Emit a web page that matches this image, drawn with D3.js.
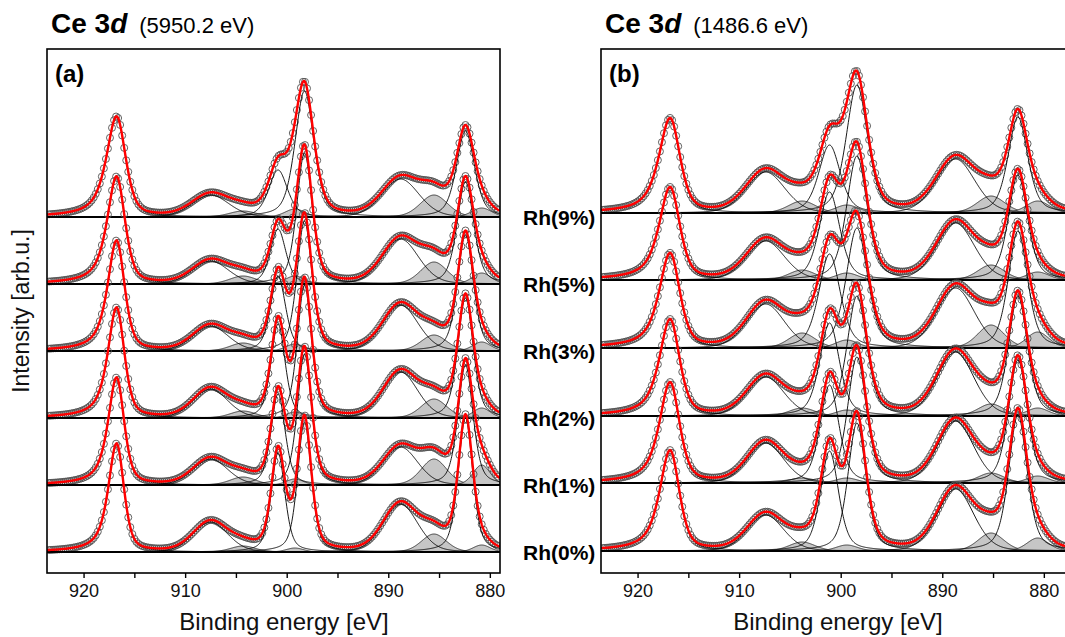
<!DOCTYPE html>
<html><head><meta charset="utf-8">
<script src="https://cdn.jsdelivr.net/npm/d3@7"></script>
<style>
html,body{margin:0;padding:0;background:#fff;}
svg{display:block;font-family:Arial,"Liberation Sans",Helvetica,sans-serif;}
</style></head><body>
<svg id="chart" width="1065" height="637"></svg>
<script>
// Ce 3d spectra of Rh-doped ceria, fitted with Ce4+ (open) and Ce3+ (grey) components
const samples = ["Rh(0%)", "Rh(1%)", "Rh(2%)", "Rh(3%)", "Rh(5%)", "Rh(9%)"];
const componentNames = ["u'''", "u''", "u'", "u", "u0", "v'''", "v''", "v'", "v", "v0"];
const isCe3 = [false, false, true, false, true, false, false, true, false, true];
// width group of each component: 0 main, 1 mid, 2 satellite, 3 broad Ce3+, 4 narrow Ce3+
const widthGroup = [0, 2, 3, 1, 4, 1, 2, 3, 0, 4];
const lorentzFraction = [0.45, 0.45, 0.2, 0.2, 0.2];
// extra tail on the high binding energy side of u'''
const highSideWidth = [1.15, 1, 1, 1, 1, 1, 1, 1, 1, 1];
const highSideLorentz = [0.75, null, null, null, null, null, null, null, null, null];
const xTicks = [920, 910, 900, 890, 880];
const xMinorTicks = [915, 905, 895, 885, 875];

// (a) hard X-ray excitation
const excitationA = "(5950.2 eV)";
const positionsA = [916.75, 907.5, 904.3, 900.85, 899.2, 898.25, 888.8, 885.5, 882.4, 880.8];
const heightsA = [
  [108, 30, 6, 99, 4, 130, 48, 18, 134, 7],    // Rh(0%)
  [107, 26, 8, 91, 6, 131, 38, 26, 120, 20],   // Rh(1%)
  [110, 29, 7, 94, 6, 133, 46, 19, 120, 10],   // Rh(2%)
  [110, 25, 8, 75, 7, 130, 46, 16, 116, 9],    // Rh(3%)
  [107, 23, 8, 55, 8, 131, 45, 22, 102, 11],   // Rh(5%)
  [100, 22, 6, 47, 8, 126, 38, 22, 86, 9]      // Rh(9%)
];
const widthsA = [
  [1.7, 1.6, 4.0, 2.9, 2.0],
  [1.75, 1.65, 4.0, 3.0, 2.0],
  [1.8, 1.65, 4.0, 3.0, 2.0],
  [1.85, 1.75, 4.1, 3.0, 2.1],
  [1.95, 1.8, 4.2, 3.1, 2.2],
  [2.1, 2.2, 4.3, 3.2, 2.3]
];
const offsetsA = [0, 67, 134, 201, 268, 335];

// (b) Al Ka excitation
const excitationB = "(1486.6 eV)";
const positionsB = [916.8, 907.4, 903.8, 901.1, 899.4, 898.4, 888.7, 885.2, 882.55, 880.6];
const heightsB = [
  [100, 36, 9, 100, 6, 128, 62, 18, 136, 13],  // Rh(0%)
  [100, 40, 5, 98, 5, 126, 62, 10, 123, 7],    // Rh(1%)
  [96, 39, 8, 93, 6, 120, 64, 12, 120, 8],     // Rh(2%)
  [94, 44, 15, 94, 8, 120, 60, 23, 117, 16],   // Rh(3%)
  [92, 39, 10, 88, 7, 124, 57, 15, 105, 8],    // Rh(5%)
  [94, 41, 12, 68, 8, 128, 54, 17, 96, 12]     // Rh(9%)
];
const widthsB = [
  [2.15, 2.1, 4.2, 3.0, 2.5],
  [2.2, 2.2, 4.2, 3.0, 2.5],
  [2.2, 2.3, 4.3, 3.0, 2.5],
  [2.25, 2.5, 4.4, 3.1, 2.6],
  [2.25, 2.4, 4.4, 3.1, 2.6],
  [2.3, 2.5, 4.5, 3.2, 2.7]
];
const offsetsB = [0, 68, 135, 203, 271, 338];

const panels = [
  {id: "a", tag: "(a)", excitation: excitationA, positions: positionsA, heights: heightsA,
   widths: widthsA, offsets: offsetsA, left: 47, right: 500, eMax: 923.6, eMin: 879.0,
   yDomain: [-21, 503]},
  {id: "b", tag: "(b)", excitation: excitationB, positions: positionsB, heights: heightsB,
   widths: widthsB, offsets: offsetsB, left: 601, right: 1100, eMax: 923.6, eMin: 874.47,
   yDomain: [-22, 502]}
];

const plotTop = 49, plotBottom = 573;
const svg = d3.select("#chart");

// pseudo-Voigt line shape, optionally with a wider high-energy side
function pv(e, k, c, h, w, eta) {
  let ww = w, et = eta;
  if (e > c) {
    ww = w * highSideWidth[k];
    if (highSideLorentz[k] !== null) et = highSideLorentz[k];
  }
  const d = (e - c) / (ww / 2);
  const g = Math.exp(-Math.LN2 * d * d);
  const l = 1 / (1 + d * d);
  return h * ((1 - et) * g + et * l);
}

panels.forEach(p => {
  const x = d3.scaleLinear().domain([p.eMax, p.eMin]).range([p.left, p.right]);
  const y = d3.scaleLinear().domain(p.yDomain).range([plotBottom, plotTop]);
  const lineGrid = d3.range(p.eMax, p.eMin - 0.05, -0.05);
  const pointGrid = d3.range(p.eMax - 0.2, p.eMin, -0.2);

  const clipId = "clip-" + p.id;
  svg.append("clipPath").attr("id", clipId)
    .append("rect").attr("x", p.left).attr("y", plotTop)
    .attr("width", p.right - p.left).attr("height", plotBottom - plotTop);

  const plot = svg.append("g").attr("clip-path", `url(#${clipId})`);

  // stack from the top spectrum down
  d3.range(samples.length).reverse().forEach(si => {
    const off = p.offsets[si];
    const hs = p.heights[si];
    const ws = p.widths[si];
    const comp = (k, e) => pv(e, k, p.positions[k], hs[k], ws[widthGroup[k]], lorentzFraction[widthGroup[k]]);
    const total = e => d3.sum(componentNames, (_, k) => comp(k, e));
    const g = plot.append("g").attr("class", "spectrum");

    // Ce3+ components, grey filled
    componentNames.forEach((_, k) => {
      if (!isCe3[k]) return;
      g.append("path")
        .datum(lineGrid)
        .attr("d", d3.area().x(e => x(e)).y0(y(off)).y1(e => y(off + comp(k, e))))
        .attr("fill", "#c6c6c6").attr("stroke", "#1a1a1a").attr("stroke-width", 0.8);
    });

    // baseline
    g.append("line")
      .attr("x1", p.left).attr("x2", p.right)
      .attr("y1", y(off)).attr("y2", y(off))
      .attr("stroke", "#000").attr("stroke-width", 2);

    // measured points
    g.append("g").selectAll("circle")
      .data(pointGrid)
      .join("circle")
      .attr("cx", e => x(e)).attr("cy", e => y(off + total(e)))
      .attr("r", 3.5).attr("fill", "none")
      .attr("stroke", "#505050").attr("stroke-width", 0.9);

    // Ce4+ components
    componentNames.forEach((_, k) => {
      if (isCe3[k]) return;
      g.append("path")
        .datum(lineGrid)
        .attr("d", d3.line().x(e => x(e)).y(e => y(off + comp(k, e))))
        .attr("fill", "none").attr("stroke", "#000").attr("stroke-width", 0.9);
    });

    // envelope
    g.append("path")
      .datum(lineGrid)
      .attr("d", d3.line().x(e => x(e)).y(e => y(off + total(e))))
      .attr("fill", "none").attr("stroke", "#f00").attr("stroke-width", 2.4);
  });

  // frame
  svg.append("rect")
    .attr("x", p.left).attr("y", plotTop)
    .attr("width", p.right - p.left).attr("height", plotBottom - plotTop)
    .attr("fill", "none").attr("stroke", "#000").attr("stroke-width", 1.6);

  // x axis
  const ax = svg.append("g").attr("transform", `translate(0,${plotBottom})`)
    .call(d3.axisBottom(x).tickValues(xTicks).tickFormat(d3.format("d")).tickSize(5).tickPadding(6));
  ax.select(".domain").remove();
  ax.selectAll("line").attr("stroke-width", 1.4);
  ax.selectAll("text").attr("font-size", 18).attr("fill", "#111")
    .attr("font-family", "Arial, 'Liberation Sans', sans-serif");
  const axm = svg.append("g").attr("transform", `translate(0,${plotBottom})`)
    .call(d3.axisBottom(x).tickValues(xMinorTicks.filter(v => v <= p.eMax && v >= p.eMin)).tickFormat("").tickSize(5));
  axm.select(".domain").remove();
  axm.selectAll("line").attr("stroke-width", 1.4);

  svg.append("text")
    .attr("x", p.left + 237).attr("y", 630)
    .attr("text-anchor", "middle").attr("font-size", 24).attr("fill", "#111")
    .text("Binding energy [eV]");

  // title
  const t = svg.append("text").attr("x", p.left + 4).attr("y", 33).attr("fill", "#000");
  t.append("tspan").attr("font-size", 28).attr("font-weight", "bold").text("Ce 3");
  t.append("tspan").attr("font-size", 28).attr("font-weight", "bold").attr("font-style", "italic").text("d");
  t.append("tspan").attr("font-size", 22).attr("dx", 12).text(p.excitation);

  svg.append("text")
    .attr("x", p.left + 8).attr("y", 82)
    .attr("font-size", 24).attr("font-weight", "bold").text(p.tag);
});

// sample labels between the panels
const yLab = d3.scaleLinear().domain(panels[0].yDomain).range([plotBottom, plotTop]);
svg.append("g").selectAll("text")
  .data(samples)
  .join("text")
  .attr("x", 523).attr("y", (d, i) => yLab(offsetsA[i]))
  .attr("dy", "0.36em")
  .attr("font-size", 21).attr("font-weight", "bold").attr("fill", "#000")
  .text(d => d);

svg.append("text")
  .attr("transform", `translate(29,${(plotTop + plotBottom) / 2}) rotate(-90)`)
  .attr("text-anchor", "middle").attr("font-size", 23).attr("fill", "#111")
  .text("Intensity [arb.u.]");
</script>
</body></html>
